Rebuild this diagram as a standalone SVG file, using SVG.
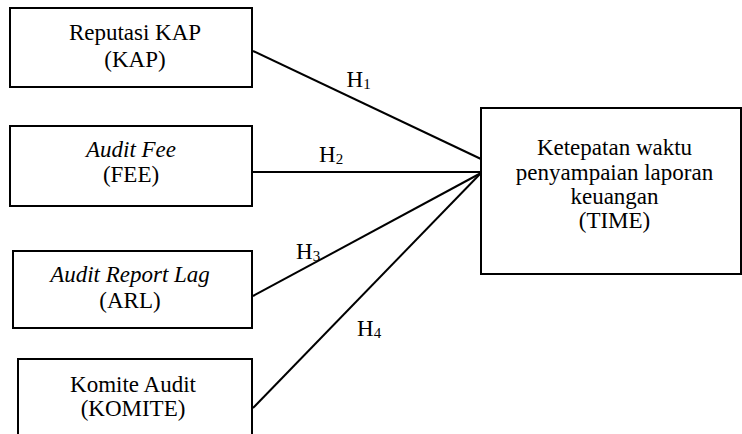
<svg xmlns="http://www.w3.org/2000/svg" width="742" height="434" viewBox="0 0 742 434">
<style>
.box{fill:#fff;stroke:#000;stroke-width:2}
.ln{stroke:#000;stroke-width:2;fill:none}
text{font-family:"Liberation Serif","Times New Roman",serif;font-size:23px;fill:#000}
.c{text-anchor:middle}
.i{font-style:italic}
.sub{font-size:15px}
</style>
<rect width="742" height="434" fill="#fff"/>
<g id="connectors">
<line class="ln" x1="253" y1="51" x2="481" y2="159"/>
<line class="ln" x1="253" y1="172" x2="481" y2="172"/>
<line class="ln" x1="253" y1="296" x2="481" y2="173"/>
<line class="ln" x1="253" y1="408" x2="481" y2="173"/>
<text x="346.5" y="87.3">H<tspan class="sub" dy="1.5">1</tspan></text>
<text x="319" y="162">H<tspan class="sub" dy="1.5">2</tspan></text>
<text x="296" y="259">H<tspan class="sub" dy="2">3</tspan></text>
<text x="357" y="336">H<tspan class="sub" dy="1.5">4</tspan></text>
</g>
<g id="kap">
<rect class="box" x="10" y="8" width="242" height="79"/>
<text class="c" x="135" y="40">Reputasi KAP</text>
<text class="c" x="135" y="66.5">(KAP)</text>
</g>
<g id="fee">
<rect class="box" x="10" y="126" width="242" height="80"/>
<text class="c i" x="131" y="156.5">Audit Fee</text>
<text class="c" x="131" y="182">(FEE)</text>
</g>
<g id="arl">
<rect class="box" x="13" y="251" width="239" height="77"/>
<text class="c i" x="130" y="281.5">Audit Report Lag</text>
<text class="c" x="130" y="308">(ARL)</text>
</g>
<g id="komite">
<rect class="box" x="18" y="359" width="234" height="90"/>
<text class="c" x="133" y="391.5">Komite Audit</text>
<text class="c" x="133" y="415.5">(KOMITE)</text>
</g>
<g id="time">
<rect class="box" x="481" y="108" width="260" height="166"/>
<text class="c" x="614.5" y="155">Ketepatan waktu</text>
<text class="c" x="614.5" y="180">penyampaian laporan</text>
<text class="c" x="614.5" y="203.5">keuangan</text>
<text class="c" x="614.5" y="227.5">(TIME)</text>
</g>
</svg>
